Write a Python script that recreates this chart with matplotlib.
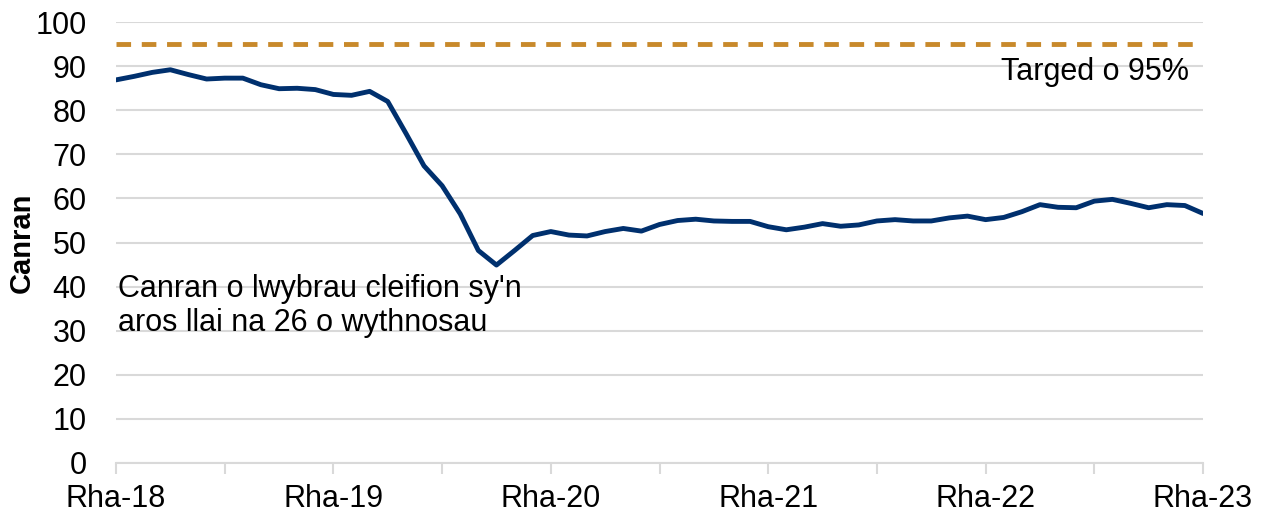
import numpy as np
import matplotlib.pyplot as plt

plt.rcParams['font.family'] = ['Liberation Sans', 'DejaVu Sans']

# monthly values, Rha-18 .. Rha-23
canran = [86.9, 87.7, 88.6, 89.2, 88.1, 87.1, 87.3, 87.3, 85.8, 84.9,
          85.0, 84.7, 83.6, 83.4, 84.3, 82.0, 74.8, 67.4, 62.9, 56.5,
          48.2, 44.9, 48.2, 51.6, 52.5, 51.7, 51.5, 52.5, 53.2, 52.6,
          54.1, 55.0, 55.3, 54.9, 54.8, 54.8, 53.6, 52.9, 53.5, 54.3,
          53.7, 54.0, 54.9, 55.2, 54.9, 54.9, 55.6, 56.0, 55.2, 55.7,
          57.0, 58.6, 58.0, 57.9, 59.4, 59.8, 58.9, 57.9, 58.6, 58.4,
          56.6]
targed = 95
year_labels = ['Rha-18', 'Rha-19', 'Rha-20', 'Rha-21', 'Rha-22', 'Rha-23']

months = np.arange(len(canran))

fig = plt.figure(figsize=(12.65, 5.15), dpi=100)
ax = fig.add_axes([0.0917, 0.101, 0.8593, 0.856])

ax.plot(months, canran, color='#00306E', lw=3.5, solid_capstyle='round', zorder=3)
ax.axhline(targed, color='#C8892B', lw=3.5, ls=(0, (3, 2.2)), zorder=3)

ax.set_xlim(0, 60)
ax.set_ylim(0, 100)
ax.set_yticks(np.arange(0, 101, 10))
ax.yaxis.grid(True, color='#D9D9D9', lw=1.5)
ax.set_axisbelow(True)
ax.tick_params(axis='y', length=0, labelsize=22, pad=21)

ax.set_xticks(np.arange(0, 61, 12))
ax.set_xticklabels(year_labels)
ax.set_xticks(np.arange(6, 61, 12), minor=True)
ax.tick_params(axis='x', which='both', length=8, width=1.5, color='#D9D9D9',
               labelsize=22, pad=7)

for s in ['top', 'right', 'left']:
    ax.spines[s].set_visible(False)
ax.spines['bottom'].set_color('#D9D9D9')
ax.spines['bottom'].set_linewidth(1.5)

ax.set_ylabel('Canran', fontsize=21, fontweight='bold')
ax.yaxis.set_label_coords(-0.074, 0.5)

ax.text(59.2, 88.8, 'Targed o 95%', fontsize=22, ha='right', va='center')
ax.text(0.1, 35.6, "Canran o lwybrau cleifion sy'n\naros llai na 26 o wythnosau",
        fontsize=22, ha='left', va='center', linespacing=1.2)

fig.savefig('out.png', dpi=100)
